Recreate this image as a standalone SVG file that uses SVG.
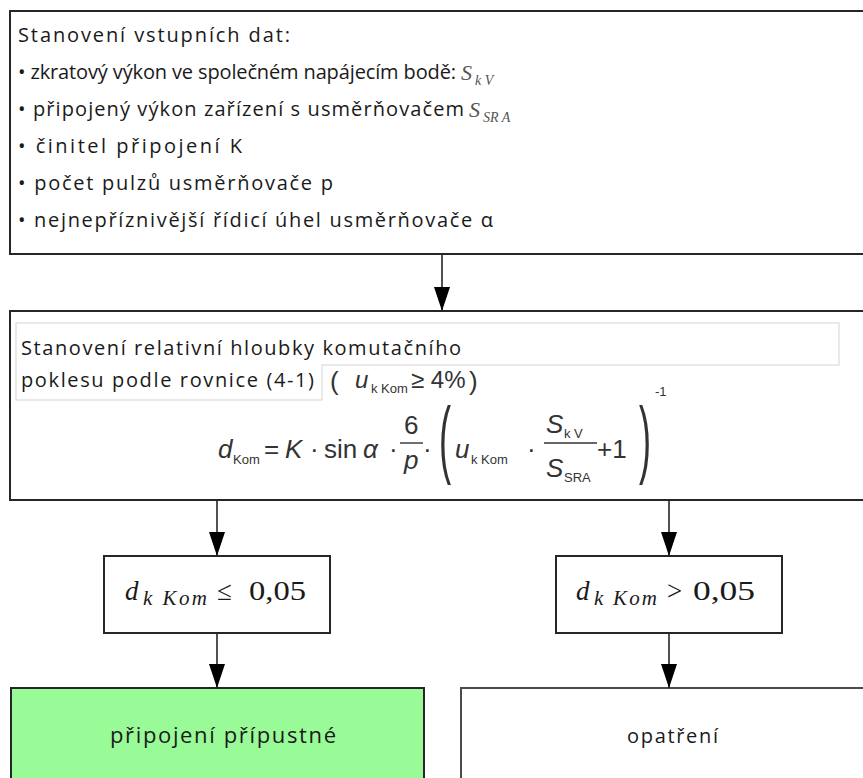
<svg xmlns="http://www.w3.org/2000/svg" width="863" height="778" viewBox="0 0 863 778">
  <style>
    .box { fill: #ffffff; stroke: #262626; stroke-width: 2; }
    .ok { fill: #98fb98; }
    .frame { fill: none; stroke: #e2e2e2; stroke-width: 1.5; }
    .t { font-family: "Open Sans", "Liberation Sans", sans-serif; font-size: 20px; fill: #1a1a1a; }
    .big { font-size: 22px; }
    .var { font-family: "Liberation Serif", serif; font-style: italic; fill: #555555; }
    .m { font-family: "Liberation Sans", Arial, sans-serif; font-size: 26px; fill: #333333; }
    .i { font-style: italic; }
    .sub { font-size: 13px; }
    .sm { font-size: 13px; }
    .mid { font-size: 24px; }
    .par { font-size: 86px; font-weight: 300; }
    .bar { stroke: #333333; stroke-width: 1.4; }
    .c { font-family: "Liberation Serif", serif; font-size: 27px; fill: #1a1a1a; }
    .cs { font-size: 21px; }
    .connectors line { stroke: #262626; stroke-width: 1.6; }
  </style>
  <defs>
    <marker id="arrow" viewBox="0 0 24 16" refX="24" refY="8" markerWidth="24" markerHeight="16" markerUnits="userSpaceOnUse" orient="auto">
      <path d="M0,0 L24,8 L0,16 Z" fill="#000000"/>
    </marker>
  </defs>

  <!-- input data -->
  <g id="input-data">
    <rect class="box" x="10" y="11" width="870" height="243"/>
    <text class="t" x="18" y="42" textLength="272" lengthAdjust="spacing">Stanovení vstupních dat:</text>
    <text class="t" x="18" y="79" textLength="438" lengthAdjust="spacing">• zkratový výkon ve společném napájecím bodě:</text>
    <text class="var" x="461" y="80" font-size="22">S</text>
    <text class="var" x="475" y="85" font-size="14">k V</text>
    <text class="t" x="18" y="116" textLength="446" lengthAdjust="spacing">• připojený výkon zařízení s usměrňovačem</text>
    <text class="var" x="469" y="117" font-size="22">S</text>
    <text class="var" x="483" y="122" font-size="14">SR A</text>
    <text class="t" x="18" y="153" textLength="224" lengthAdjust="spacing">• činitel připojení K</text>
    <text class="t" x="18" y="190" textLength="315" lengthAdjust="spacing">• počet pulzů usměrňovače p</text>
    <text class="t" x="18" y="227" textLength="475" lengthAdjust="spacing">• nejnepříznivější řídicí úhel usměrňovače α</text>
  </g>

  <!-- commutation notch depth -->
  <g id="notch-depth">
    <rect class="box" x="10" y="311" width="870" height="189"/>
    <path class="frame" d="M16,323 H839 V365 H322 V400 H16 Z"/>
    <text class="t" x="21" y="355" textLength="440" lengthAdjust="spacing">Stanovení relativní hloubky komutačního</text>
    <text class="t" x="21" y="387" textLength="293" lengthAdjust="spacing">poklesu podle rovnice (4-1)</text>
    <text class="m" x="330" y="390">(</text>
    <text class="m mid i" x="355" y="388">u</text>
    <text class="m sub" x="371" y="393">k Kom</text>
    <text class="m mid" x="411" y="388">≥ 4%</text>
    <text class="m" x="469" y="390">)</text>

    <text class="m i" x="218" y="458">d</text>
    <text class="m sub" x="233" y="464">Kom</text>
    <text class="m" x="264" y="458">=</text>
    <text class="m i" x="285" y="458">K</text>
    <text class="m" x="310" y="458">·</text>
    <text class="m" x="324" y="458">sin</text>
    <text class="m i" x="363" y="458">α</text>
    <text class="m" x="389" y="458">·</text>
    <text class="m" x="404" y="434">6</text>
    <line class="bar" x1="400" y1="443" x2="423" y2="443"/>
    <text class="m i" x="404" y="469">p</text>
    <text class="m" x="423" y="458">·</text>
    <text class="m par" x="439" y="467" transform="translate(439 0) scale(0.42 1) translate(-439 0)">(</text>
    <text class="m i" x="455" y="458">u</text>
    <text class="m sub" x="471" y="464">k Kom</text>
    <text class="m" x="527" y="458">·</text>
    <text class="m i" x="546" y="433">S</text>
    <text class="m sub" x="564" y="438">k V</text>
    <line class="bar" x1="544" y1="443" x2="597" y2="443"/>
    <text class="m i" x="546" y="477">S</text>
    <text class="m sm" x="564" y="482">SRA</text>
    <text class="m" x="597" y="458">+1</text>
    <text class="m par" x="639" y="467" transform="translate(639 0) scale(0.42 1) translate(-639 0)">)</text>
    <text class="m sm" x="655" y="396">-1</text>
  </g>

  <!-- condition: allowed -->
  <g id="cond-low">
    <rect class="box" x="104" y="556" width="226" height="77"/>
    <text class="c i" x="125" y="600">d</text>
    <text class="c cs i" x="143" y="605" textLength="64" lengthAdjust="spacing">k Kom</text>
    <text class="c" x="217" y="600">≤</text>
    <text class="c" x="249" y="600" textLength="57" lengthAdjust="spacingAndGlyphs">0,05</text>
  </g>

  <!-- condition: measures needed -->
  <g id="cond-high">
    <rect class="box" x="556" y="556" width="226" height="77"/>
    <text class="c i" x="576" y="600">d</text>
    <text class="c cs i" x="594" y="605" textLength="63" lengthAdjust="spacing">k Kom</text>
    <text class="c" x="667" y="600">&gt;</text>
    <text class="c" x="693" y="600" textLength="62" lengthAdjust="spacingAndGlyphs">0,05</text>
  </g>

  <g id="allowed">
    <rect class="box ok" x="11" y="688" width="413" height="110"/>
    <text class="t big" x="110" y="743" textLength="226" lengthAdjust="spacing">připojení přípustné</text>
  </g>

  <g id="measures">
    <rect class="box" x="461" y="688" width="420" height="110" style="stroke:#4a4a4a"/>
    <text class="t" x="627" y="743" textLength="91" lengthAdjust="spacing">opatření</text>
  </g>

  <g class="connectors">
    <line x1="442" y1="254" x2="442" y2="311" marker-end="url(#arrow)"/>
    <line x1="217" y1="500" x2="217" y2="556" marker-end="url(#arrow)"/>
    <line x1="669" y1="500" x2="669" y2="556" marker-end="url(#arrow)"/>
    <line x1="217" y1="633" x2="217" y2="688" marker-end="url(#arrow)"/>
    <line x1="669" y1="633" x2="669" y2="688" marker-end="url(#arrow)"/>
  </g>
</svg>
